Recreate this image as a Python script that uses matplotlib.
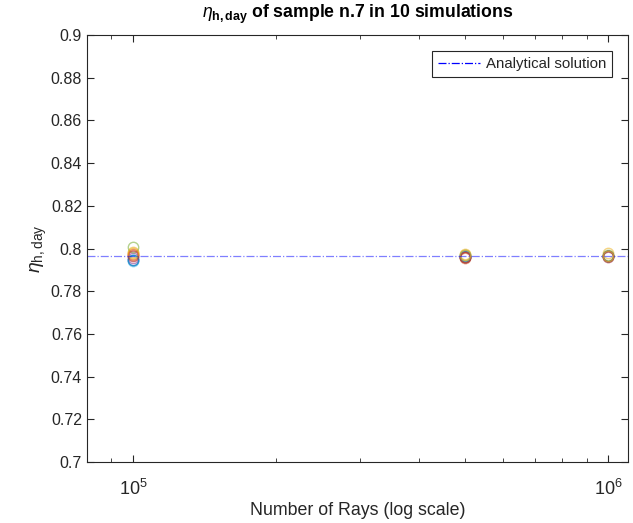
import matplotlib
matplotlib.use("Agg")
import matplotlib.pyplot as plt
from matplotlib.lines import Line2D
from matplotlib.ticker import FixedLocator, FuncFormatter, LogLocator, NullFormatter

plt.rcParams['font.family'] = ['Liberation Sans', 'DejaVu Sans']
plt.rcParams['mathtext.fontset'] = 'custom'
plt.rcParams['mathtext.rm'] = 'Liberation Sans'
plt.rcParams['mathtext.it'] = 'Liberation Sans:italic'
plt.rcParams['mathtext.bf'] = 'Liberation Sans:bold'

n_rays = [1e5, 5e5, 1e6]
sim_values = [
    [0.7945, 0.7960, 0.7965],
    [0.7975, 0.7955, 0.7967],
    [0.7985, 0.7975, 0.7978],
    [0.7955, 0.7962, 0.7963],
    [0.8005, 0.7972, 0.7968],
    [0.7940, 0.7965, 0.7966],
    [0.7965, 0.7958, 0.7962],
    [0.7948, 0.7963, 0.7964],
    [0.7970, 0.7960, 0.7965],
    [0.7980, 0.7968, 0.7967],
]
analytical = 0.7967
colors = ['#0072BD', '#D95319', '#EDB120', '#7E2F8E', '#77AC30',
          '#4DBEEE', '#A2142F', '#0072BD', '#D95319', '#EDB120']
y_ticks = [0.7, 0.72, 0.74, 0.76, 0.78, 0.8, 0.82, 0.84, 0.86, 0.88, 0.9]

fig = plt.figure(figsize=(6.33, 5.23), dpi=100)
ax = fig.add_axes([0.1374, 0.1166, 0.8546, 0.8164])

for vals, c in zip(sim_values, colors):
    ax.plot(n_rays, vals, linestyle='none', marker='o', markersize=7.5,
            markerfacecolor='none', markeredgecolor=c, markeredgewidth=1.0, alpha=0.55)

ax.axhline(analytical, color='blue', linestyle='-.', linewidth=0.9, alpha=0.5)

ax.set_xscale('log')
ax.set_xlim(8e4, 1.1e6)
ax.set_ylim(0.7, 0.9)
ax.yaxis.set_major_locator(FixedLocator(y_ticks))
ax.yaxis.set_major_formatter(FuncFormatter(lambda v, p: ('%g' % round(v, 4))))
ax.xaxis.set_major_locator(LogLocator(base=10, numticks=10))
ax.xaxis.set_minor_locator(LogLocator(base=10, subs=range(2, 10), numticks=10))
ax.xaxis.set_minor_formatter(NullFormatter())

axcol = '#262626'
for s in ax.spines.values():
    s.set_color(axcol)
    s.set_linewidth(0.8)
ax.tick_params(which='both', direction='in', top=True, right=True, colors=axcol)
ax.tick_params(axis='y', labelsize=11.5)
ax.tick_params(axis='x', labelsize=13, pad=12)
ax.tick_params(which='major', length=5)
ax.tick_params(which='minor', length=3)

ax.set_xlabel('Number of Rays (log scale)', fontsize=12.8, color=axcol, labelpad=2)
ax.set_ylabel(r'$\eta_{\mathrm{h,day}}$', fontsize=14, color=axcol, labelpad=1)
ax.set_title(r'$\eta_{\mathbf{h,day}}$ of sample n.7 in 10 simulations',
             fontsize=12.7, fontweight='bold', color='black', pad=12)

handle = Line2D([], [], color='blue', linestyle='-.', linewidth=0.9)
leg = ax.legend([handle], ['Analytical solution'], loc='upper right', fontsize=10.8,
                frameon=True, fancybox=False, edgecolor=axcol, framealpha=1,
                handlelength=2.8, handletextpad=0.4, borderaxespad=1.05,
                borderpad=0.4)
leg.get_frame().set_linewidth(0.8)
for t in leg.get_texts():
    t.set_color(axcol)

fig.savefig('out.png', dpi=100)
